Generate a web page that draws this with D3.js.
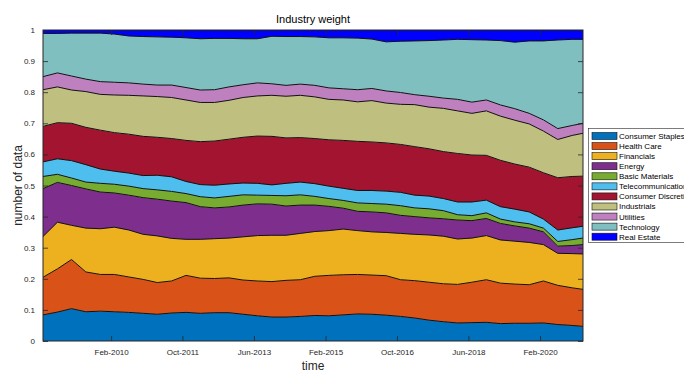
<!DOCTYPE html>
<html>
<head>
<meta charset="utf-8">
<script src="https://cdn.jsdelivr.net/npm/d3@7"></script>
<style>
  html, body { margin: 0; padding: 0; background: #fff; }
  svg { display: block; font-family: "Liberation Sans", Arial, Helvetica, sans-serif; }
</style>
</head>
<body>
<svg id="chart" width="684" height="372"></svg>
<script>
// Sample dates (every four months, plus the last observation)
const dates = [
  "2008-07","2008-11","2009-03","2009-07","2009-11","2010-03","2010-07","2010-11",
  "2011-03","2011-07","2011-11","2012-03","2012-07","2012-11","2013-03","2013-07",
  "2013-11","2014-03","2014-07","2014-11","2015-03","2015-07","2015-11","2016-03",
  "2016-07","2016-11","2017-03","2017-07","2017-11","2018-03","2018-07","2018-11",
  "2019-03","2019-07","2019-11","2020-03","2020-07","2020-11","2021-02"
];

// Industry weights (share of the total at each date)
const consumerStaples = [.084,.093,.104,.094,.096,.094,.092,.089,.086,.090,.092,.089,.091,.091,.086,.081,.077,.077,.079,.082,.081,.084,.087,.086,.083,.079,.074,.067,.062,.058,.059,.060,.056,.057,.057,.058,.053,.050,.047];
const healthCare      = [.121,.139,.158,.128,.118,.120,.114,.109,.102,.103,.119,.113,.110,.112,.110,.112,.114,.118,.118,.126,.130,.129,.127,.126,.127,.118,.120,.122,.122,.124,.130,.137,.130,.126,.124,.135,.126,.121,.119];
const financials      = [.131,.150,.110,.141,.147,.152,.151,.145,.150,.137,.116,.125,.128,.128,.139,.146,.149,.145,.149,.144,.144,.147,.141,.139,.139,.149,.149,.152,.153,.146,.142,.142,.139,.138,.136,.117,.103,.110,.114];
const energy          = [.154,.128,.128,.126,.118,.110,.112,.118,.118,.120,.118,.105,.099,.100,.102,.102,.100,.094,.091,.085,.078,.067,.062,.064,.063,.058,.057,.055,.056,.061,.056,.055,.053,.049,.046,.041,.023,.026,.030];
const basicMaterials  = [.039,.026,.024,.022,.028,.028,.029,.029,.030,.031,.029,.032,.032,.034,.033,.028,.028,.033,.033,.028,.025,.025,.027,.027,.028,.031,.028,.029,.026,.017,.016,.018,.014,.013,.014,.012,.015,.019,.021];
const telecom         = [.047,.050,.056,.056,.046,.042,.042,.042,.047,.047,.039,.039,.041,.040,.038,.038,.034,.040,.041,.041,.040,.039,.040,.042,.042,.043,.041,.041,.039,.041,.044,.041,.040,.041,.038,.029,.037,.038,.038];
const consumerDiscr   = [.114,.116,.120,.120,.125,.124,.125,.126,.122,.123,.132,.138,.142,.144,.147,.152,.156,.146,.143,.145,.149,.154,.158,.156,.155,.154,.156,.152,.151,.156,.151,.144,.149,.145,.144,.149,.168,.165,.161];
const industrials     = [.118,.115,.107,.115,.115,.121,.125,.130,.131,.132,.130,.126,.124,.125,.128,.129,.132,.134,.136,.134,.130,.130,.127,.133,.128,.129,.135,.134,.139,.137,.134,.143,.142,.141,.139,.134,.123,.132,.138];
const utilities       = [.042,.045,.045,.040,.041,.041,.040,.038,.037,.040,.040,.040,.041,.043,.041,.042,.037,.035,.036,.037,.037,.036,.039,.039,.039,.038,.032,.035,.033,.037,.036,.035,.036,.037,.034,.036,.035,.032,.032];
const technology      = [.139,.127,.138,.148,.156,.155,.151,.153,.155,.154,.160,.165,.165,.156,.148,.142,.153,.157,.153,.156,.161,.164,.166,.159,.158,.165,.173,.179,.187,.193,.201,.193,.207,.214,.233,.254,.285,.277,.270];
const realEstate      = [.011,.011,.010,.010,.010,.013,.019,.021,.022,.023,.025,.028,.027,.027,.028,.028,.020,.021,.021,.022,.025,.025,.026,.029,.038,.036,.035,.034,.032,.030,.031,.032,.034,.039,.035,.035,.032,.030,.030];

const industryNames = ["Consumer Staples","Health Care","Financials","Energy","Basic Materials",
  "Telecommunications","Consumer Discretionary","Industrials","Utilities","Technology","Real Estate"];
const industryColors = ["#0072BD","#D95319","#EDB120","#7E2F8E","#77AC30","#4DBEEE",
  "#A2142F","#BFBF80","#BF80BF","#80BFBF","#0000FF"];
const industryValues = [consumerStaples, healthCare, financials, energy, basicMaterials,
  telecom, consumerDiscr, industrials, utilities, technology, realEstate];

const xTickLabels = ["Feb-2010","Oct-2011","Jun-2013","Feb-2015","Oct-2016","Jun-2018","Feb-2020"];
const yTickValues = [0,0.1,0.2,0.3,0.4,0.5,0.6,0.7,0.8,0.9,1];

// Layout
const plotLeft = 43, plotRight = 583, plotTop = 30, plotBottom = 341;
const axisColor = "#262626";

const parseMonth = d3.timeParse("%Y-%m");
const parseTick = d3.timeParse("%b-%Y");
const rows = dates.map((d, i) => {
  const r = { date: parseMonth(d) };
  industryNames.forEach((n, k) => { r[n] = industryValues[k][i]; });
  return r;
});

const x = d3.scaleTime().domain(d3.extent(rows, d => d.date)).range([plotLeft, plotRight]);
const y = d3.scaleLinear().domain([0, 1]).range([plotBottom, plotTop]);

const svg = d3.select("#chart");
svg.append("rect").attr("width", 684).attr("height", 372).attr("fill", "#fff");

svg.append("defs").append("clipPath").attr("id", "plotClip")
  .append("rect").attr("x", plotLeft).attr("y", plotTop)
  .attr("width", plotRight - plotLeft).attr("height", plotBottom - plotTop);

const layers = d3.stack().keys(industryNames).order(d3.stackOrderNone).offset(d3.stackOffsetNone)(rows);

const area = d3.area().x(d => x(d.data.date)).y0(d => y(d[0])).y1(d => y(d[1]));
const topLine = d3.line().x(d => x(d.data.date)).y(d => y(d[1]));

const plot = svg.append("g").attr("clip-path", "url(#plotClip)");
plot.selectAll("path.layer").data(layers).join("path")
  .attr("class", "layer")
  .attr("d", area)
  .attr("fill", (d, i) => industryColors[i])
  .attr("stroke", (d, i) => industryColors[i])
  .attr("stroke-width", 0.3);
plot.selectAll("path.edge").data(layers).join("path")
  .attr("class", "edge")
  .attr("d", topLine)
  .attr("fill", "none")
  .attr("stroke", "#111")
  .attr("stroke-width", 1);

// Axes (box with inward ticks on all sides)
const tickLen = 5;
const xTicks = xTickLabels.map(parseTick);
const fmt = d3.timeFormat("%b-%Y");

const xAxisBottom = d3.axisBottom(x).tickValues(xTicks).tickFormat(fmt).tickSizeInner(-tickLen).tickSizeOuter(0).tickPadding(8);
const xAxisTop = d3.axisTop(x).tickValues(xTicks).tickFormat("").tickSizeInner(-tickLen).tickSizeOuter(0);
const yAxisLeft = d3.axisLeft(y).tickValues(yTickValues).tickFormat(d3.format("")).tickSizeInner(-tickLen).tickSizeOuter(0).tickPadding(8);
const yAxisRight = d3.axisRight(y).tickValues(yTickValues).tickFormat("").tickSizeInner(-tickLen).tickSizeOuter(0);

function styleAxis(g) {
  g.select(".domain").remove();
  g.selectAll(".tick line").attr("stroke", axisColor).attr("stroke-width", 0.8);
  g.selectAll(".tick text").attr("fill", axisColor).attr("font-size", "8px")
    .attr("font-family", "'Liberation Sans', Arial, Helvetica, sans-serif");
}
svg.append("g").attr("transform", `translate(0,${plotBottom})`).call(xAxisBottom).call(styleAxis);
svg.append("g").attr("transform", `translate(0,${plotTop})`).call(xAxisTop).call(styleAxis);
svg.append("g").attr("transform", `translate(${plotLeft},0)`).call(yAxisLeft).call(styleAxis);
svg.append("g").attr("transform", `translate(${plotRight},0)`).call(yAxisRight).call(styleAxis);

svg.append("rect").attr("x", plotLeft).attr("y", plotTop)
  .attr("width", plotRight - plotLeft).attr("height", plotBottom - plotTop)
  .attr("fill", "none").attr("stroke", axisColor).attr("stroke-width", 1);

// Title and axis labels
svg.append("text").attr("x", (plotLeft + plotRight) / 2).attr("y", 23).attr("text-anchor", "middle")
  .attr("font-size", "11px").attr("fill", "#000").text("Industry weight");
svg.append("text").attr("x", (plotLeft + plotRight) / 2).attr("y", 370).attr("text-anchor", "middle")
  .attr("font-size", "12px").attr("fill", axisColor).text("time");
svg.append("text").attr("transform", `translate(22,${(plotTop + plotBottom) / 2}) rotate(-90)`)
  .attr("text-anchor", "middle")
  .attr("font-size", "12px").attr("fill", axisColor).text("number of data");

// Legend
const lgX = 588.5, lgY = 128.5, rowH = 10.07;
const legend = svg.append("g");
legend.append("rect").attr("x", lgX).attr("y", lgY).attr("width", 110).attr("height", 114)
  .attr("fill", "#fff").attr("stroke", axisColor).attr("stroke-width", 0.6);
const items = legend.selectAll("g.item").data(industryNames).join("g").attr("class", "item")
  .attr("transform", (d, i) => `translate(0,${136 + i * rowH})`);
items.append("rect").attr("x", 592).attr("y", -3.5).attr("width", 25).attr("height", 7)
  .attr("fill", (d, i) => industryColors[i]).attr("stroke", "#111").attr("stroke-width", 0.6);
items.append("text").attr("x", 619).attr("y", 3).attr("font-size", "8px").attr("fill", "#000").text(d => d);
</script>
</body>
</html>
